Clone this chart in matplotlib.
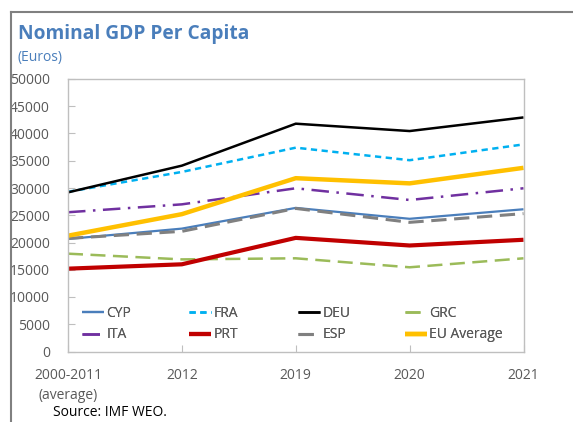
import matplotlib.pyplot as plt
from matplotlib.lines import Line2D

# categories and values (Euros)
periods = ['2000-2011\n(average)', '2012', '2019', '2020', '2021']
cyp = [20650, 22550, 26350, 24350, 26100]
fra = [29300, 32950, 37400, 35100, 38000]
deu = [29200, 34100, 41800, 40450, 42950]
grc = [17950, 16900, 17100, 15450, 17100]
ita = [25550, 27000, 29950, 27800, 29950]
prt = [15200, 16000, 20850, 19450, 20500]
esp = [20750, 22050, 26250, 23700, 25300]
eu_avg = [21250, 25200, 31800, 30850, 33700]

plt.rcParams['font.family'] = ['Open Sans', 'DejaVu Sans']

W, H = 573, 422
fig = plt.figure(figsize=(W / 100, H / 100), dpi=100)
ax = fig.add_axes([68 / W, 1 - 351.5 / H, (523.5 - 68) / W, (351.5 - 79) / H])

x = list(range(len(periods)))
styles = [
    ('CYP', cyp, dict(color='#4A7EBB', lw=1.6, ls='-')),
    ('FRA', fra, dict(color='#00B0F0', lw=1.8, ls=(0, (2.5, 1.8)))),
    ('DEU', deu, dict(color='black', lw=1.8, ls='-')),
    ('GRC', grc, dict(color='#9BBB59', lw=1.8, ls=(0, (6, 3)))),
    ('ITA', ita, dict(color='#7030A0', lw=1.8, ls=(0, (7, 3, 1, 3)))),
    ('PRT', prt, dict(color='#C00000', lw=3.0, ls='-')),
    ('ESP', esp, dict(color='#808080', lw=2.2, ls=(0, (5, 2.5)))),
    ('EU Average', eu_avg, dict(color='#FFC000', lw=3.2, ls='-')),
]

handles = {}
for name, vals, st in styles:
    line, = ax.plot(x, vals, label=name, solid_capstyle='butt', **st)
    handles[name] = line

ax.set_xlim(0, 4)
ax.set_ylim(0, 50000)
ax.set_yticks(range(0, 50001, 5000))
ax.set_xticks(x)
ax.set_xticklabels(periods)

for s in ax.spines.values():
    s.set_color('#BFBFBF')
    s.set_linewidth(1.0)
ax.tick_params(axis='both', direction='in', length=5, color='#BFBFBF',
               labelcolor='#595959', labelsize=10)
ax.tick_params(axis='y', pad=13)
ax.tick_params(axis='x', pad=12)
for lbl in ax.get_xticklabels():
    lbl.set_linespacing(1.4)

# legend: four fixed-width columns of two rows each
columns = [('CYP', 'ITA'), ('FRA', 'PRT'), ('DEU', 'ESP'), ('GRC', 'EU Average')]
col_x = [82, 189, 298, 405]
for names, cx in zip(columns, col_x):
    leg = fig.legend([handles[n] for n in names], names, loc='center left',
                     bbox_to_anchor=(cx / W, 1 - 324 / H), frameon=False,
                     fontsize=10, handlelength=1.55, handletextpad=0.2,
                     labelspacing=0.5, borderpad=0, borderaxespad=0,
                     labelcolor='#595959')
    fig.add_artist(leg)

# title, subtitle, source
fig.text(18 / W, 1 - 34 / H, 'Nominal GDP Per Capita', color='#4A7EBB',
         fontsize=13.8, fontweight='bold', va='center', ha='left')
fig.text(18 / W, 1 - 57 / H, '(Euros)', color='#4A7EBB',
         fontsize=10, va='center', ha='left')
fig.text(53 / W, 1 - 413 / H, 'Source: IMF WEO.', color='black',
         fontsize=10, va='center', ha='left')

# outer frame lines (top and left)
fig.add_artist(Line2D([11 / W, 1], [1 - 12 / H, 1 - 12 / H],
                      transform=fig.transFigure, color='#808080', lw=1.5))
fig.add_artist(Line2D([11 / W, 11 / W], [0, 1 - 12 / H],
                      transform=fig.transFigure, color='#808080', lw=1.5))

fig.savefig('out.png', dpi=100)
